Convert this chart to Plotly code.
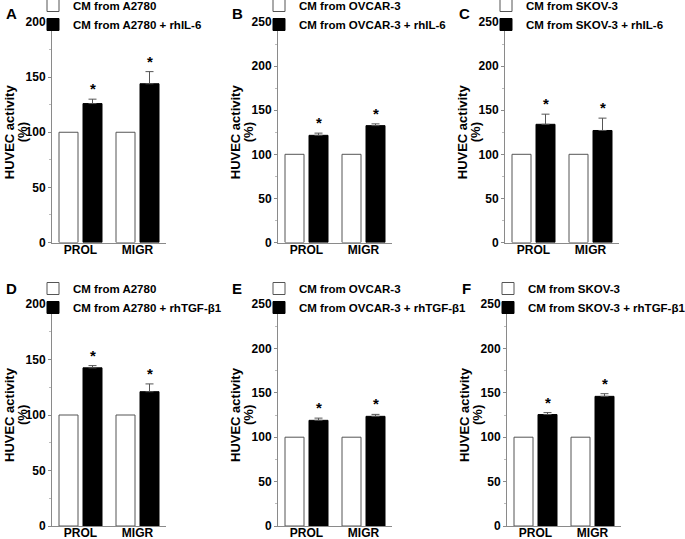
import plotly.graph_objects as go

categories = ["PROL", "MIGR"]

panel_letters = ["A", "B", "C", "D", "E", "F"]
control_names = ["CM from A2780", "CM from OVCAR-3", "CM from SKOV-3",
                 "CM from A2780", "CM from OVCAR-3", "CM from SKOV-3"]
treated_names = ["CM from A2780 + rhIL-6", "CM from OVCAR-3 + rhIL-6", "CM from SKOV-3 + rhIL-6",
                 "CM from A2780 + rhTGF-β1", "CM from OVCAR-3 + rhTGF-β1", "CM from SKOV-3 + rhTGF-β1"]

control_values = [[100, 100], [100, 100], [100, 100], [100, 100], [100, 100], [100, 100]]
treated_values = [[126, 144], [121.5, 132.5], [134, 127], [142.5, 121], [119, 123.5], [125.5, 146]]
treated_errors = [[4, 11], [2.5, 2], [11.5, 14], [2, 7], [2.5, 2.2], [2.2, 3]]
significant = [[True, True], [True, True], [True, True], [True, True], [True, True], [True, True]]

y_max = [200, 250, 250, 200, 250, 250]
y_tickvals = [[0, 50, 100, 150, 200], [0, 50, 100, 150, 200, 250], [0, 50, 100, 150, 200, 250],
              [0, 50, 100, 150, 200], [0, 50, 100, 150, 200, 250], [0, 50, 100, 150, 200, 250]]
y_title_line1 = "HUVEC activity"
y_title_line2 = "(%)"

W, H = 685, 539
# panel layout in pixels: (axis left, axis right, bottom, top)
panel_px = [(52, 166, 242.5, 22), (278, 392, 242.5, 22), (505, 619, 242.5, 22),
            (52, 166, 526, 304), (278, 392, 526, 304), (507, 621, 526, 304)]
legend_top_px = [-9, -9, -9, 274, 274, 274]

FONT = "Arial, Liberation Sans, sans-serif"
AXIS_GREY = "#8a8a8a"

fig = go.Figure()
layout_extra = {}
annotations = []

for i in range(6):
    n = "" if i == 0 else str(i + 1)
    xa, ya = "x" + n, "y" + n
    leg = "legend" + n
    fig.add_trace(go.Bar(
        x=categories, y=control_values[i], name=control_names[i],
        marker=dict(color="white", line=dict(color="#555555", width=1)),
        xaxis=xa, yaxis=ya, legend=leg, offsetgroup="c"))
    fig.add_trace(go.Bar(
        x=categories, y=treated_values[i], name=treated_names[i],
        marker=dict(color="black", line=dict(color="black", width=1)),
        error_y=dict(type="data", symmetric=False, array=treated_errors[i],
                     arrayminus=[0] * len(categories), color="#555555",
                     thickness=1, width=4),
        xaxis=xa, yaxis=ya, legend=leg, offsetgroup="t"))

    l, r, b, t = panel_px[i]
    layout_extra["xaxis" + n] = dict(
        domain=[l / W, r / W], anchor=ya, range=[-0.5, 1.5], type="category",
        showline=True, linecolor=AXIS_GREY, linewidth=1, ticks="", ticklabelstandoff=-4,
        tickfont=dict(family=FONT, size=12, color="black", weight="bold"),
        showgrid=False, zeroline=False, fixedrange=True)
    layout_extra["yaxis" + n] = dict(
        domain=[1 - b / H, 1 - t / H], anchor=xa, range=[0, y_max[i]],
        tickvals=y_tickvals[i], showline=True, linecolor=AXIS_GREY, linewidth=1,
        ticks="outside", ticklen=3, tickcolor=AXIS_GREY,
        minor=dict(dtick=25, ticks="outside", ticklen=2, tickcolor="#bbbbbb"),
        tickfont=dict(family=FONT, size=12, color="black", weight="bold"),
        showgrid=False, zeroline=False, fixedrange=True)
    layout_extra[leg] = dict(
        x=(l - 19) / W, xanchor="left", y=1 - legend_top_px[i] / H, yanchor="top",
        bgcolor="rgba(0,0,0,0)", font=dict(family=FONT, size=11.5, color="black", weight="bold"),
        tracegroupgap=0, traceorder="normal")

    # axis title lines
    annotations.append(dict(text=y_title_line1, xref=xa + " domain", yref=ya + " domain",
                            x=0, y=0.5, xshift=-43, xanchor="center", yanchor="middle",
                            textangle=-90, showarrow=False,
                            font=dict(family=FONT, size=13, color="black", weight="bold")))
    annotations.append(dict(text=y_title_line2, xref=xa + " domain", yref=ya + " domain",
                            x=0, y=0.5, xshift=-30, xanchor="center", yanchor="middle",
                            textangle=-90, showarrow=False,
                            font=dict(family=FONT, size=13, color="black", weight="bold")))
    # panel letter
    annotations.append(dict(text=panel_letters[i], xref=xa + " domain", yref=ya + " domain",
                            x=0, y=1, xshift=-41, yshift=(9 if i < 3 else 16),
                            xanchor="center", yanchor="middle", showarrow=False,
                            font=dict(family=FONT, size=15, color="black", weight="bold")))
    # significance stars
    for j, cat in enumerate(categories):
        if significant[i][j]:
            annotations.append(dict(text="*", xref=xa, yref=ya, x=cat,
                                    y=treated_values[i][j] + treated_errors[i][j],
                                    xshift=12, yshift=0, yanchor="bottom", showarrow=False,
                                    font=dict(family=FONT, size=15, color="black", weight="bold")))

fig.update_layout(
    width=W, height=H, margin=dict(l=0, r=0, t=0, b=0, autoexpand=False),
    paper_bgcolor="white", plot_bgcolor="white",
    barmode="group", bargap=0.158, bargroupgap=0.208,
    annotations=annotations, **layout_extra)

fig.write_html("out.html", config={"displayModeBar": False},
               post_script="document.body.style.margin='0px';document.body.style.overflow='hidden';")
